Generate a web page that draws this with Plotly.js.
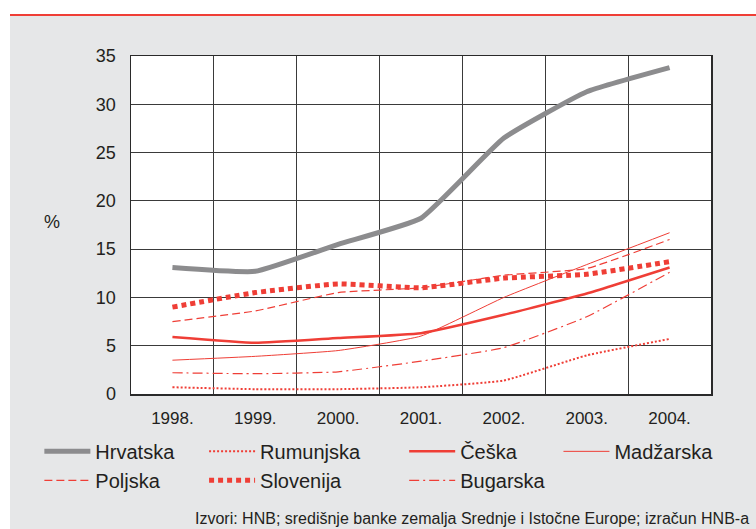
<!DOCTYPE html>
<html>
<head>
<meta charset="utf-8">
<script src="https://cdn.plot.ly/plotly-3.0.1.min.js"></script>
<style>
  html, body { margin: 0; padding: 0; background: #ffffff; width: 756px; height: 529px; overflow: hidden; }
  #bar { position: absolute; left: 10px; top: 14px; width: 746px; height: 2px; background: #ef3e36; }
  #chart { position: absolute; left: 10px; top: 16px; width: 746px; height: 513px; }
</style>
</head>
<body>
<div id="bar"></div>
<div id="chart"></div>
<script>
const years = ['1998.', '1999.', '2000.', '2001.', '2002.', '2003.', '2004.'];

const hrvatska  = [13.1, 12.7, 15.5, 18.2, 26.5, 31.3, 33.8];
const rumunjska = [0.7, 0.5, 0.5, 0.7, 1.4, 4.0, 5.7];
const ceska     = [5.9, 5.3, 5.8, 6.3, 8.2, 10.4, 13.1];
const madzarska = [3.5, 3.9, 4.5, 6.0, 10.0, 13.4, 16.7];
const poljska   = [7.5, 8.6, 10.5, 11.0, 12.3, 13.0, 16.0];
const slovenija = [9.0, 10.5, 11.4, 11.0, 12.0, 12.4, 13.7];
const bugarska  = [2.2, 2.1, 2.3, 3.4, 4.8, 8.0, 12.6];

const yTicks = [0, 5, 10, 15, 20, 25, 30, 35];

const RED = '#ef3e36';
const GREY = '#8c8c8e';
const FONT = 'Liberation Sans, Arial, sans-serif';
const TXT = '#231f20';

function tr(name, y, color, width, dash, legend, group) {
  return {
    type: 'scatter', mode: 'lines', name: name, x: years, y: y,
    line: { color: color, width: width, dash: dash, shape: 'spline', smoothing: 0.4 },
    legend: legend, legendgroup: group, hoverinfo: 'skip'
  };
}

const data = [
  tr('Hrvatska', hrvatska, GREY, 5, 'solid', 'legend', 'a'),
  tr('Poljska', poljska, RED, 1.2, '8px,4px', 'legend', 'b'),
  tr('Rumunjska', rumunjska, RED, 2, '2px,2px', 'legend2', 'c'),
  tr('Slovenija', slovenija, RED, 5, '5px,4px', 'legend2', 'd'),
  tr('Češka', ceska, RED, 2.5, 'solid', 'legend3', 'e'),
  tr('Bugarska', bugarska, RED, 1.2, '10px,4px,2px,4px', 'legend3', 'f'),
  tr('Madžarska', madzarska, RED, 1, 'solid', 'legend4', 'g')
];

function leg(x) {
  return {
    x: x, y: -0.112, xanchor: 'left', yanchor: 'top', orientation: 'v',
    bgcolor: 'rgba(0,0,0,0)', borderwidth: 0, itemwidth: 46, tracegroupgap: 0,
    font: { family: FONT, size: 20, color: TXT }
  };
}

const layout = {
  width: 746, height: 513,
  margin: { l: 121, r: 45, t: 40, b: 135 },
  paper_bgcolor: '#e6e7e8',
  plot_bgcolor: '#ffffff',
  showlegend: true,
  font: { family: FONT, color: TXT },
  xaxis: {
    type: 'category', range: [-0.5, 6.5], tickson: 'boundaries', showgrid: true, gridcolor: '#3a3a3a', gridwidth: 1,
    ticks: '', ticklabelstandoff: 8,
    showline: true, linecolor: '#2a2a2a', linewidth: 1.5, mirror: true,
    tickfont: { family: FONT, size: 17, color: TXT }, zeroline: false, fixedrange: true
  },
  yaxis: {
    range: [0, 35], tickvals: yTicks, ticktext: yTicks.map(String),
    showgrid: true, gridcolor: '#3a3a3a', gridwidth: 1,
    ticks: '', ticklabelstandoff: 10,
    showline: true, linecolor: '#2a2a2a', linewidth: 1.5, mirror: true,
    tickfont: { family: FONT, size: 18, color: TXT }, zeroline: false, fixedrange: true
  },
  legend: leg(-0.158),
  legend2: leg(0.126),
  legend3: leg(0.471),
  legend4: leg(0.737),
  annotations: [
    { text: '%', xref: 'paper', yref: 'paper', x: -0.136, y: 0.509, xanchor: 'center', yanchor: 'middle',
      showarrow: false, font: { family: FONT, size: 18, color: TXT } },
    { text: 'Izvori: HNB; središnje banke zemalja Srednje i Istočne Europe; izračun HNB-a',
      xref: 'paper', yref: 'paper', x: 1.069, y: -0.367, xanchor: 'right', yanchor: 'middle',
      showarrow: false, font: { family: FONT, size: 16, color: TXT } }
  ]
};

Plotly.newPlot('chart', data, layout, { displayModeBar: false, staticPlot: true });
</script>
</body>
</html>
